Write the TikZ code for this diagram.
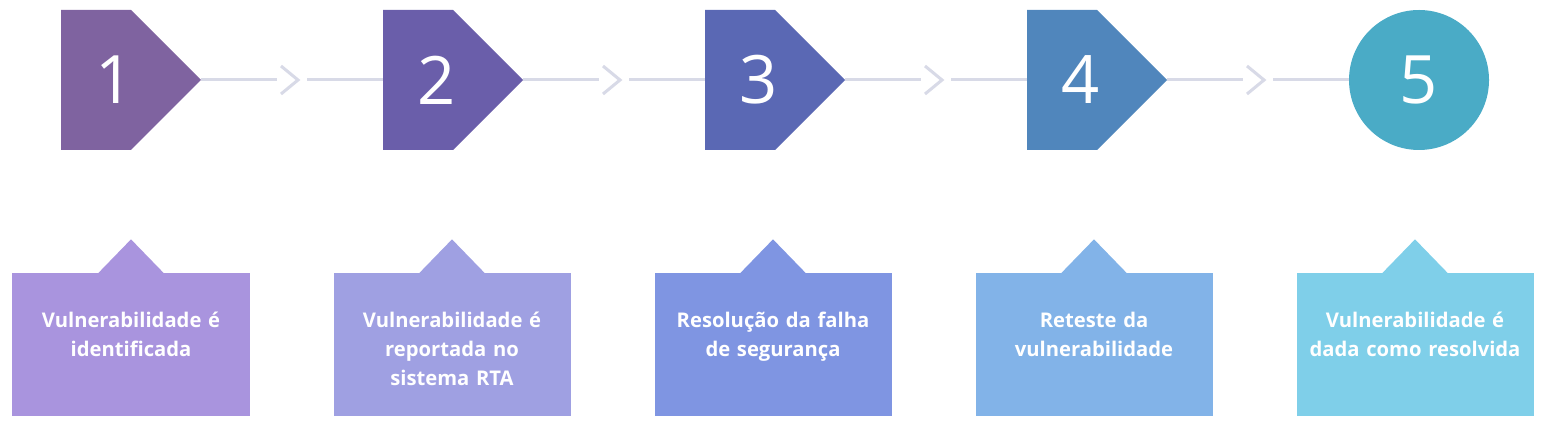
\documentclass[tikz,border=0pt]{standalone}
\usepackage{fontspec}
\setmainfont{Open Sans}
\usepackage{tikz}
\usetikzlibrary{positioning}

\definecolor{stepA}{HTML}{7F63A0}
\definecolor{stepB}{HTML}{6A5EAA}
\definecolor{stepC}{HTML}{5A68B4}
\definecolor{stepD}{HTML}{5086BC}
\definecolor{stepE}{HTML}{4AABC6}
\definecolor{noteA}{HTML}{A994DE}
\definecolor{noteB}{HTML}{9FA0E2}
\definecolor{noteC}{HTML}{7F95E2}
\definecolor{noteD}{HTML}{82B3E8}
\definecolor{noteE}{HTML}{7FCFE9}
\definecolor{linegray}{HTML}{D8DAE7}

\begin{document}
\begin{tikzpicture}[
    node distance=6.44cm,
    link/.style={line width=0.06cm, draw=linegray},
    stepshape/.style={
        rectangle,
        fill=white,
        inner ysep=0pt,
        inner xsep=0.68cm,
        minimum width=2.8cm,
        minimum height=2.8cm,
        text width=1.44cm,
        align=left,
        text=white,
        font=\fontsize{38}{38}\selectfont,
        path picture={
            \fill[#1] (path picture bounding box.north west)
                -- ([xshift=-1.4cm]path picture bounding box.north east)
                -- (path picture bounding box.east)
                -- ([xshift=-1.4cm]path picture bounding box.south east)
                -- (path picture bounding box.south west) -- cycle;
        }
    },
    endstep/.style={
        circle,
        fill=stepE,
        inner sep=0pt,
        minimum size=2.8cm,
        text=white,
        font=\fontsize{38}{38}\selectfont
    },
    chev/.style={
        rectangle,
        fill=white,
        inner sep=0pt,
        minimum width=0.6cm,
        minimum height=0.7cm,
        path picture={
            \draw[line width=0.06cm, linegray]
                ([shift={(-0.22cm,0.28cm)}]path picture bounding box.center)
                -- ([xshift=0.12cm]path picture bounding box.center)
                -- ([shift={(-0.22cm,-0.28cm)}]path picture bounding box.center);
        }
    },
    notebox/.style={
        rectangle,
        fill=#1,
        inner sep=0pt,
        text width=4.74cm,
        text height=1.1cm,
        text depth=1.76cm,
        align=center,
        text=white,
        font=\fontsize{11.5}{16.5}\selectfont\bfseries,
        append after command={
            \pgfextra{
                \fill[#1] ([xshift=-0.66cm, yshift=-0.02cm]\tikzlastnode.north)
                    -- ++(0.66cm,0.68cm) -- ++(0.66cm,-0.68cm) -- cycle;
            }
        }
    }
]

\useasboundingbox (0,0) rectangle (30.9,-8.44);

% STEPS

\node[stepshape=stepA] (s1) at (2.62,-1.6) {1};
\node[stepshape=stepB, right of=s1] (s2) {2};
\node[stepshape=stepC, right of=s2] (s3) {3};
\node[stepshape=stepD, right of=s3] (s4) {4};
\node[endstep, right of=s4] (s5) {5};

% NOTES
\node[notebox=noteA, below=2.44cm of s1] (b1) {Vulnerabilidade é\\identificada};
\node[notebox=noteB, right of=b1, node distance=6.42cm] (b2) {Vulnerabilidade é\\reportada no\\sistema RTA};
\node[notebox=noteC, right of=b2, node distance=6.42cm] (b3) {Resolução da falha\\de segurança};
\node[notebox=noteD, right of=b3, node distance=6.42cm] (b4) {Reteste da\\vulnerabilidade};
\node[notebox=noteE, right of=b4, node distance=6.42cm] (b5) {Vulnerabilidade é\\dada como resolvida};

% --- LINKS ---
\draw[link] (s1) -- node[chev] (c1) {} (s2);
\draw[link] (s2) -- node[chev] (c2) {} (s3);
\draw[link] (s3) -- node[chev] (c3) {} (s4);
\draw[link] (s4) -- node[chev] (c4) {} (s5);

\end{tikzpicture}
\end{document}
